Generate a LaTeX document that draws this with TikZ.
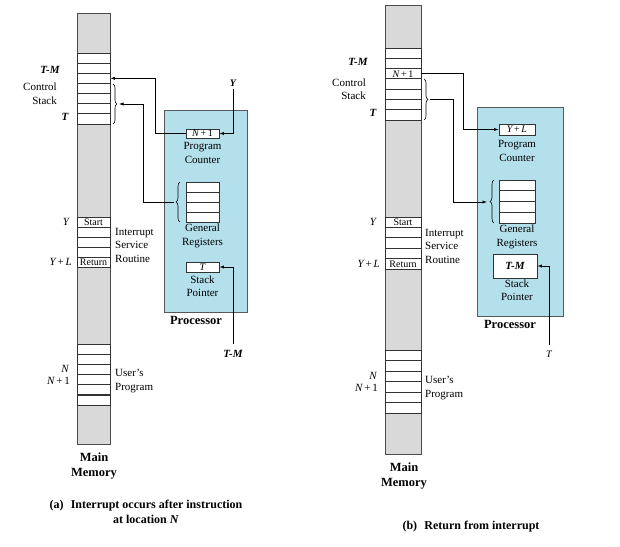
\documentclass[tikz,border=0pt]{standalone}
\usepackage{fontspec}
\setmainfont{Liberation Serif}
\usetikzlibrary{arrows.meta,decorations.pathreplacing}

\definecolor{memgray}{RGB}{217,217,217}
\definecolor{procblue}{RGB}{180,224,236}

\begin{document}
\begin{tikzpicture}[x=1pt,y=-1pt,
	cell/.style={draw=black!80, line width=0.75pt, fill=white, minimum width=33, minimum height=10.1, inner sep=0, font=\fontsize{10}{10}\selectfont},
	txt/.style={font=\fontsize{11}{13.5}\selectfont, align=center, inner sep=0},
	lbl/.style={font=\fontsize{11}{13}\selectfont\itshape, inner sep=0},
	bld/.style={font=\fontsize{12.5}{15}\selectfont\bfseries, align=center, inner sep=0},
	ptr/.style={line width=0.65pt, ->, >={Latex[length=4.5pt,width=3.2pt]}},
	accolade/.style={line width=0.6pt, decorate, decoration={brace, amplitude=4pt}}]

	\useasboundingbox (0,0) rectangle (620,546);

	% (a) Main memory
	\draw [draw=black!70, line width=0.8pt, fill=memgray] (77,13) rectangle (110,444);
	\foreach \i in {1,...,7}
		\node [cell] (acs\i) at (93.5,47.9+10.14*\i) {};
	\foreach \i/\t in {1/Start,2/,3/,4/,5/Return}
		\node [cell] (aisr\i) at (93.5,212+10*\i) {\t};
	\foreach \i in {1,...,6}
		\node [cell] (aup\i) at (93.5,338.9+10.17*\i) {};

	\node [lbl, font=\fontsize{11}{13}\selectfont\bfseries\itshape] (atm) at (50,70) {T-M};
	\node [txt, align=right, anchor=east] (acslab) at (57,93.5) {Control\\Stack};
	\node [lbl, font=\fontsize{11}{13}\selectfont\bfseries\itshape] (at) at (65,117) {T};
	\node [lbl] (ay) at (66,222) {Y};
	\node [lbl, anchor=east] (ayl) at (72,262) {Y\,\upshape+\,\itshape L};
	\node [lbl, anchor=east] (an) at (69,369) {N};
	\node [lbl, anchor=east] (an1) at (70,381) {N\,\upshape+\,1};
	\node [txt, align=left, anchor=west] (aisrlab) at (115,245) {Interrupt\\Service\\Routine};
	\node [txt, align=left, anchor=west] (auplab) at (115,381) {User's\\Program};
	\node [bld] (amem) at (94,466) {Main\\Memory};

	% (a) Processor
	\draw [draw=black!65, line width=0.8pt, fill=procblue] (164,110) rectangle (247,312);
	\node [cell, minimum height=9] (apc) at (202.5,133.5) {\itshape N\,\upshape+\,1};
	\node [txt] (apclab) at (202.5,153) {Program\\Counter};
	\foreach \i in {1,...,4}
		\node [cell, minimum height=10] (agr\i) at (202.5,177+10*\i) {};
	\draw [accolade] (180,222) -- (180,182);
	\coordinate (agrb) at (174,202);
	\node [txt] (agrlab) at (202.5,236) {General\\Registers};
	\node [cell, minimum height=10] (asp) at (202.5,267) {\itshape T};
	\node [txt] (asplab) at (202.5,286) {Stack\\Pointer};
	\node [bld] (aproc) at (196,320) {Processor};

	% (a) Connectors
	\draw [accolade] (113,84) -- (113,124);
	\coordinate (acsb) at (119,104);
	\node [lbl, font=\fontsize{10}{12}\selectfont\bfseries\itshape] (ayin) at (233,83) {Y};
	\node [lbl, font=\fontsize{11}{13}\selectfont\bfseries\itshape] (atmin) at (233,354) {T-M};
	\draw [ptr] (ayin.south) ++(0,3) |- (apc.east);
	\draw [ptr] (atmin.north) ++(0,-6) |- (asp.east);
	\draw [ptr] (apc.west) -- ++(-30,0) |- (acs3.east);
	\draw [ptr] (agrb) -- ++(-31,0) |- (acsb);

	% (b) Main memory
	\draw [draw=black!70, line width=0.8pt, fill=memgray] (385,5) rectangle (421,454);
	\foreach \i in {1,...,7}
		\node [cell, minimum width=36, minimum height=10.3] (bcs\i) at (403,42.86+10.29*\i) {};
	\node [font=\fontsize{10}{10}\selectfont, inner sep=0] (bnl) at (bcs3) {\itshape N\,\upshape+\,1};
	\foreach \i/\t in {1/Start,2/,3/,4/,5/Return}
		\node [cell, minimum width=36, minimum height=10.4] (bisr\i) at (403,211.8+10.4*\i) {\t};
	\foreach \i in {1,...,6}
		\node [cell, minimum width=36, minimum height=10.5] (bup\i) at (403,344.75+10.5*\i) {};

	\node [lbl, font=\fontsize{11}{13}\selectfont\bfseries\itshape] (btm) at (358,62) {T-M};
	\node [txt, align=right, anchor=east] (bcslab) at (366,89) {Control\\Stack};
	\node [lbl, font=\fontsize{11}{13}\selectfont\bfseries\itshape] (bt) at (373,113) {T};
	\node [lbl] (by) at (373,222) {Y};
	\node [lbl, anchor=east] (byl) at (380,264) {Y\,\upshape+\,\itshape L};
	\node [lbl, anchor=east] (bn) at (377,376) {N};
	\node [lbl, anchor=east] (bn1) at (378,388) {N\,\upshape+\,1};
	\node [txt, align=left, anchor=west] (bisrlab) at (425,246) {Interrupt\\Service\\Routine};
	\node [txt, align=left, anchor=west] (buplab) at (425,388) {User's\\Program};
	\node [bld] (bmem) at (404,476) {Main\\Memory};

	% (b) Processor
	\draw [draw=black!65, line width=0.8pt, fill=procblue] (477,107) rectangle (563,316);
	\node [cell, minimum width=36, minimum height=11] (bpc) at (517,129.5) {\itshape Y\,\upshape+\,\itshape L};
	\node [txt] (bpclab) at (517,151) {Program\\Counter};
	\foreach \i in {1,...,4}
		\node [cell, minimum width=36, minimum height=10.75] (bgr\i) at (517,174.6+10.75*\i) {};
	\draw [accolade] (494,223) -- (494,180);
	\coordinate (bgrb) at (487,202);
	\node [txt] (bgrlab) at (517,237) {General\\Registers};
	\node [cell, minimum width=44, minimum height=24, font=\fontsize{11}{13}\selectfont\bfseries\itshape] (bsp) at (515,266) {T-M};
	\node [txt] (bsplab) at (517,290) {Stack\\Pointer};
	\node [bld] (bproc) at (510,324) {Processor};

	% (b) Connectors
	\draw [accolade] (424,79) -- (424,120);
	\coordinate (bcsb) at (430,99.5);
	\node [lbl, font=\fontsize{10}{12}\selectfont\itshape] (btin) at (549,354) {T};
	\draw [ptr] (btin.north) ++(0,-6) |- (bsp.east);
	\draw [ptr] (bcs3.east) -- ++(42,0) |- (bpc.west);
	\draw [ptr] (bcsb) -- ++(23,0) |- (bgrb);

	% Captions
	\node [font=\fontsize{12}{15}\selectfont\bfseries, align=center] (capa) at (146,512) {(a)\hspace{0.6em}Interrupt occurs after instruction\\at location \textit{N}};
	\node [font=\fontsize{12}{15}\selectfont\bfseries] (capb) at (471,527) {(b)\hspace{0.6em}Return from interrupt};

\end{tikzpicture}
\end{document}
